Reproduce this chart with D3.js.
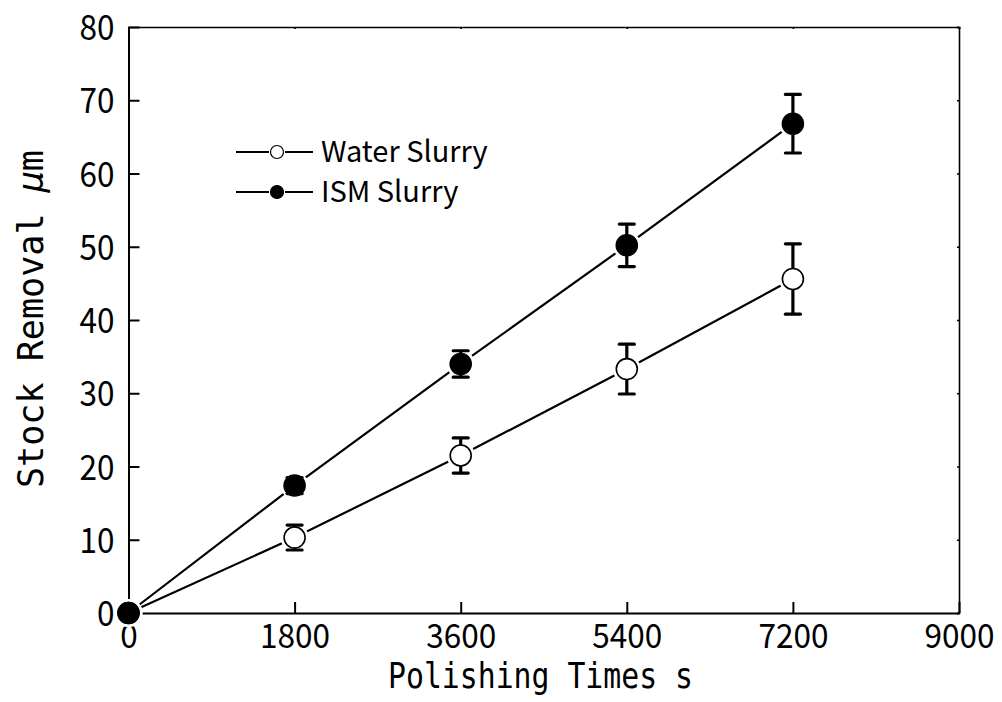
<!DOCTYPE html>
<html>
<head>
<meta charset="utf-8">
<script src="https://cdn.jsdelivr.net/npm/d3@7"></script>
<style>
  html, body { margin: 0; padding: 0; background: #fff; }
  svg { display: block; }
</style>
</head>
<body>
<svg id="chart" width="1002" height="702"></svg>
<script>
// Polishing time (s)
const times = [0, 1800, 3600, 5400, 7200];
// Stock removal (µm) and error half-widths
const waterValues = [0, 10.3, 21.5, 33.3, 45.6];
const waterErrors = [0, 1.7, 2.4, 3.4, 4.8];
const ismValues = [0, 17.4, 34.0, 50.2, 66.8];
const ismErrors = [0, 1.1, 1.8, 2.9, 4.0];
const xTicks = [0, 1800, 3600, 5400, 7200, 9000];
const yTicks = [0, 10, 20, 30, 40, 50, 60, 70, 80];
const seriesNames = ["Water Slurry", "ISM Slurry"];

const sansFont = "'Noto Sans CJK JP', 'Noto Sans', sans-serif";
const monoFont = "'DejaVu Sans Mono', 'Liberation Mono', monospace";

const svg = d3.select("#chart");
const plotLeft = 128.5, plotRight = 959, plotTop = 27, plotBottom = 613;

const x = d3.scaleLinear().domain([0, 9000]).range([plotLeft, plotRight]);
const y = d3.scaleLinear().domain([0, 80]).range([plotBottom, plotTop]);

const series = [
  { name: seriesNames[0], values: waterValues, errors: waterErrors, fill: "#fff" },
  { name: seriesNames[1], values: ismValues, errors: ismErrors, fill: "#000" }
];

// Frame: top and right edges with tiny ticks
svg.append("g").attr("transform", `translate(0,${plotTop})`)
  .call(d3.axisTop(x).tickValues(xTicks).tickSize(-2).tickFormat(""))
  .call(g => g.selectAll("path,line").attr("stroke", "#000").attr("stroke-width", 1.6));
svg.append("g").attr("transform", `translate(${plotRight},0)`)
  .call(d3.axisRight(y).tickValues(yTicks).tickSize(-2).tickFormat(""))
  .call(g => g.selectAll("path,line").attr("stroke", "#000").attr("stroke-width", 1.6));

// Bottom axis with inward ticks
const xAxis = svg.append("g").attr("transform", `translate(0,${plotBottom})`)
  .call(d3.axisBottom(x).tickValues(xTicks).tickFormat(d3.format("d"))
    .tickSizeInner(-11).tickSizeOuter(0).tickPadding(15));
xAxis.selectAll("path,line").attr("stroke", "#000").attr("stroke-width", 2);
xAxis.selectAll("text")
  .style("font-family", sansFont).style("font-size", "34px").attr("fill", "#000")
  .attr("dy", "0.6em")
  .attr("textLength", d => String(d).length * 17.5)
  .attr("lengthAdjust", "spacingAndGlyphs");

// Left axis with inward ticks
const yAxis = svg.append("g").attr("transform", `translate(${plotLeft},0)`)
  .call(d3.axisLeft(y).tickValues(yTicks).tickFormat(d3.format("d"))
    .tickSizeInner(-11).tickSizeOuter(0).tickPadding(14));
yAxis.selectAll("path,line").attr("stroke", "#000").attr("stroke-width", 2);
yAxis.selectAll("text")
  .style("font-family", sansFont).style("font-size", "35px").attr("fill", "#000")
  .attr("dy", "0.36em")
  .attr("textLength", d => String(d).length * 17.5)
  .attr("lengthAdjust", "spacingAndGlyphs");

// Axis titles
svg.append("text")
  .attr("x", 388).attr("y", 688)
  .style("font-family", monoFont).style("font-size", "35px")
  .attr("fill", "#000")
  .attr("textLength", 305).attr("lengthAdjust", "spacingAndGlyphs")
  .text("Polishing Times s");

const yTitle = svg.append("text")
  .attr("transform", "translate(43,488) rotate(-90)")
  .style("font-family", monoFont).style("font-size", "36px")
  .attr("fill", "#000")
  .attr("textLength", 338).attr("lengthAdjust", "spacingAndGlyphs");
yTitle.append("tspan").text("Stock Removal  ");
yTitle.append("tspan").style("font-style", "italic").text("μ");
yTitle.append("tspan").text("m");

// Connecting lines
const line = d3.line().x((d, i) => x(times[i])).y(d => y(d));
const plot = svg.append("g");
series.forEach(s => {
  plot.append("path").datum(s.values)
    .attr("d", line).attr("fill", "none")
    .attr("stroke", "#000").attr("stroke-width", 2.2);
});

// White gaps around the markers
series.forEach(s => {
  plot.selectAll(null).data(s.values).join("circle")
    .attr("cx", (d, i) => x(times[i])).attr("cy", d => y(d))
    .attr("r", 14).attr("fill", "#fff");
});

// Error bars
series.forEach(s => {
  const eb = plot.append("g");
  s.values.forEach((v, i) => {
    const e = s.errors[i];
    if (!e) return;
    const cx = x(times[i]);
    eb.append("line").attr("x1", cx).attr("x2", cx)
      .attr("y1", y(v - e)).attr("y2", y(v + e))
      .attr("stroke", "#000").attr("stroke-width", 3.2);
    [v - e, v + e].forEach(t => {
      eb.append("line").attr("x1", cx - 7.5).attr("x2", cx + 7.5)
        .attr("y1", y(t)).attr("y2", y(t))
        .attr("stroke", "#000").attr("stroke-width", 3.2).attr("stroke-linecap", "round");
    });
  });
});

// Markers (filled series drawn last so the origin point is solid)
series.forEach(s => {
  plot.selectAll(null).data(s.values).join("circle")
    .attr("cx", (d, i) => x(times[i])).attr("cy", d => y(d))
    .attr("r", 10.5).attr("fill", s.fill)
    .attr("stroke", "#000").attr("stroke-width", 1.6);
});

// Legend
const legend = svg.append("g");
series.forEach((s, i) => {
  const ly = 152 + i * 40;
  legend.append("line").attr("x1", 236).attr("x2", 269).attr("y1", ly).attr("y2", ly)
    .attr("stroke", "#000").attr("stroke-width", 2);
  legend.append("line").attr("x1", 285).attr("x2", 313).attr("y1", ly).attr("y2", ly)
    .attr("stroke", "#000").attr("stroke-width", 2);
  legend.append("circle").attr("cx", 277).attr("cy", ly).attr("r", 6.5)
    .attr("fill", s.fill).attr("stroke", "#000").attr("stroke-width", 1.2);
  legend.append("text").attr("x", 321).attr("y", ly + 10)
    .style("font-family", sansFont).style("font-size", "29px")
    .attr("fill", "#000").text(s.name);
});
</script>
</body>
</html>
